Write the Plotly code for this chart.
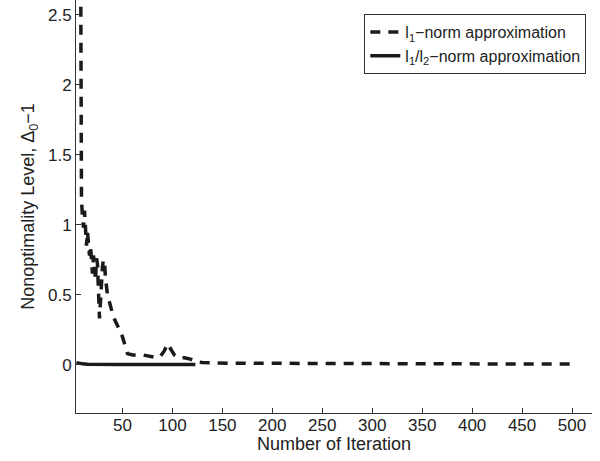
import plotly.graph_objects as go

# l1-norm approximation (dashed)
l1_iter = [8, 9, 10, 11, 12, 13, 14, 15, 16, 17, 18, 19, 20, 21, 22, 23, 24, 25, 26, 27,
           28, 29, 30, 31, 32, 33, 35, 38, 41, 45, 50, 55, 60, 70, 80, 85, 88, 92, 95, 98,
           102, 106, 112, 118, 124, 130, 140, 160, 200, 250, 300, 350, 400, 450, 505]
l1_vals = [3.2, 1.18, 1.05, 0.98, 1.1, 0.9, 0.85, 0.95, 0.8, 0.78, 0.85, 0.7, 0.65, 0.78,
           0.72, 0.6, 0.76, 0.72, 0.5, 0.33, 0.45, 0.6, 0.7, 0.75, 0.74, 0.62, 0.5, 0.42,
           0.34, 0.28, 0.2, 0.08, 0.07, 0.07, 0.06, 0.05, 0.06, 0.1, 0.15, 0.12, 0.07, 0.05,
           0.05, 0.04, 0.02, 0.015, 0.012, 0.01, 0.01, 0.008, 0.008, 0.006, 0.006, 0.005, 0.005]

# l1/l2-norm approximation (solid)
l12_iter = [4, 6, 8, 10, 15, 20, 30, 50, 80, 100, 123]
l12_vals = [0.015, 0.012, 0.008, 0.006, 0.004, 0.003, 0.002, 0.002, 0.001, 0.001, 0.001]

x_ticks = [50, 100, 150, 200, 250, 300, 350, 400, 450, 500]
y_ticks = [0, 0.5, 1, 1.5, 2, 2.5]
y_tick_labels = ["0", "0.5", "1", "1.5", "2", "2.5"]

FAM = "Liberation Sans, Arial, sans-serif"
tick_font = dict(family=FAM, size=17, color="#222222")
title_font = dict(family=FAM, size=18, color="#222222")

fig = go.Figure()
fig.add_trace(go.Scatter(
    x=l1_iter, y=l1_vals, mode="lines",
    name="l<sub>1</sub>\u2212norm approximation",
    line=dict(color="#1a1a1a", width=3.5, dash="10px,8px"),
))
fig.add_trace(go.Scatter(
    x=l12_iter, y=l12_vals, mode="lines",
    name="l<sub>1</sub>/l<sub>2</sub>\u2212norm approximation",
    line=dict(color="#1a1a1a", width=3.5),
))

fig.add_annotation(
    text="Number of Iteration", xref="paper", yref="paper",
    x=0.5, y=-31 / 413, xanchor="center", yanchor="middle",
    showarrow=False, font=title_font,
)

fig.update_layout(
    width=600, height=461,
    margin=dict(l=76, r=8, t=0, b=48),
    paper_bgcolor="white", plot_bgcolor="white",
    font=tick_font,
    showlegend=True,
    legend=dict(
        x=0.989, y=0.966, xanchor="right", yanchor="top",
        bordercolor="#333333", borderwidth=1, bgcolor="white",
        font=dict(family=FAM, size=16, color="#222222"),
        tracegroupgap=0,
    ),
    xaxis=dict(
        range=[3.5, 520], tickvals=x_ticks, ticks="inside", ticklen=5,
        tickcolor="#333333", showline=True, linecolor="#333333", linewidth=1,
        showgrid=False, zeroline=False, mirror=False,
        tickfont=tick_font, ticklabelstandoff=-3,
    ),
    yaxis=dict(
        range=[-0.345, 2.605], tickvals=y_ticks, ticktext=y_tick_labels,
        ticks="inside", ticklen=5, tickcolor="#333333",
        showline=True, linecolor="#333333", linewidth=1,
        showgrid=False, zeroline=False, mirror=False,
        title=dict(text="Nonoptimality Level, \u0394<sub>0</sub>\u22121", standoff=8, font=title_font),
        tickfont=tick_font,
    ),
)

fig.write_html("out.html")
